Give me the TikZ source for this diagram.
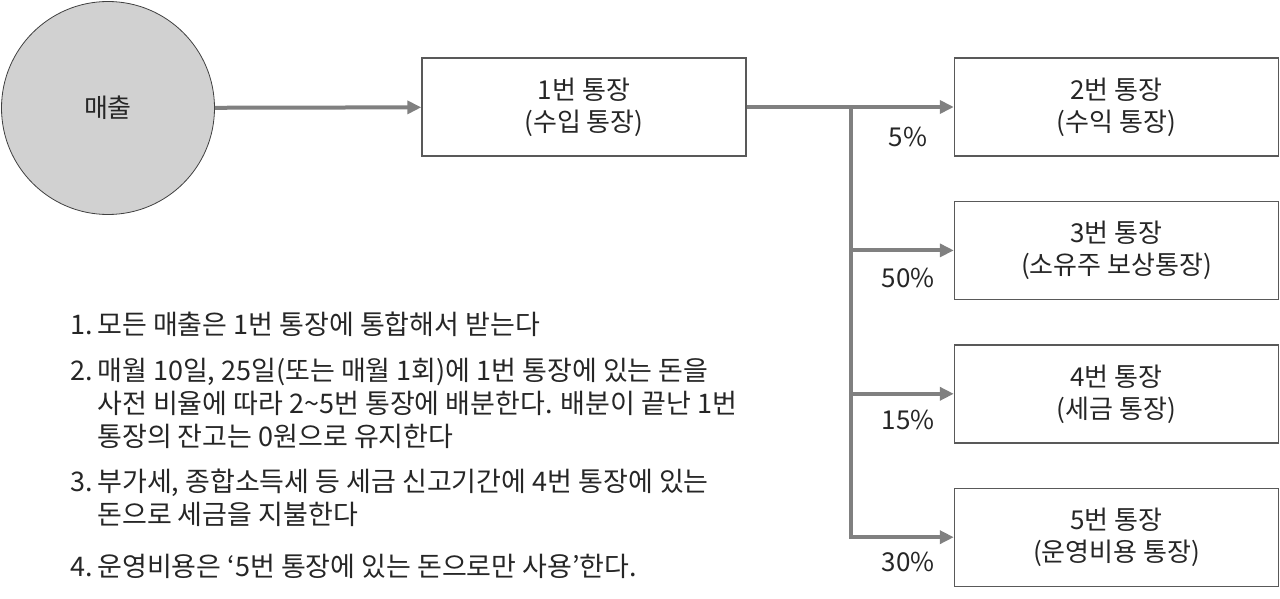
\documentclass[tikz,border=0pt]{standalone}
\usepackage{fontspec}
\setmainfont{Noto Sans CJK KR}
\usetikzlibrary{arrows.meta, positioning}

\begin{document}
\begin{tikzpicture}[
    x=0.5pt, y=-0.5pt,
    node distance=22pt,
    every node/.style={font=\fontsize{13}{16}\selectfont, text=black!85},
    sales/.style={circle, draw=black!75, fill=black!18, minimum size=106.5pt, inner sep=0pt},
    box/.style={draw=black!65, line width=0.7pt, align=center, minimum width=162pt, minimum height=49pt, inner sep=0pt},
    arrow/.style={-{Triangle[length=7pt, width=6.5pt]}, line width=2pt, draw=black!50},
    pct/.style={inner sep=0pt},
    item/.style={anchor=base west, inner sep=0pt, font=\fontsize{13.5}{16.5}\selectfont}
  ]
  \useasboundingbox (0,0) rectangle (1280,599);
  \node[sales] (rev) at (108,108) {매출};
  \node[box] (acc1) at (584,107) {1번 통장\\(수입 통장)};
  \node[box] (acc2) at (1116.5,107) {2번 통장\\(수익 통장)};
  \node[box, below=of acc2] (acc3) {3번 통장\\(소유주 보상통장)};
  \node[box, below=of acc3] (acc4) {4번 통장\\(세금 통장)};
  \node[box, below=of acc4] (acc5) {5번 통장\\(운영비용 통장)};
  \coordinate (split) at (851,107);
  \draw[arrow] (rev) -- (acc1);
  \draw[arrow] (acc1) -- (acc2);
  \draw[arrow] (split) |- (acc5.west);
  \draw[arrow] (split |- acc3.west) -- (acc3.west);
  \draw[arrow] (split |- acc4.west) -- (acc4.west);
  \node[pct] (p2) at (908,137) {5\%};
  \node[pct] (p3) at (908,278) {50\%};
  \node[pct] (p4) at (908,420) {15\%};
  \node[pct] (p5) at (908,562) {30\%};
  \node[item] (rule1) at (70,334) {\begin{tabular}[t]{@{}l@{\,}l@{}}1. & 모든 매출은 1번 통장에 통합해서 받는다\end{tabular}};
  \node[item] (rule2) at (70,380) {\begin{tabular}[t]{@{}l@{\,}l@{}}2. & 매월 10일, 25일(또는 매월 1회)에 1번 통장에 있는 돈을\\ & 사전 비율에 따라 2\textasciitilde5번 통장에 배분한다. 배분이 끝난 1번\\ & 통장의 잔고는 0원으로 유지한다\end{tabular}};
  \node[item] (rule3) at (70,491) {\begin{tabular}[t]{@{}l@{\,}l@{}}3. & 부가세, 종합소득세 등 세금 신고기간에 4번 통장에 있는\\ & 돈으로 세금을 지불한다\end{tabular}};
  \node[item] (rule4) at (70,576) {\begin{tabular}[t]{@{}l@{\,}l@{}}4. & 운영비용은 ‘5번 통장에 있는 돈으로만 사용’한다.\end{tabular}};
\end{tikzpicture}
\end{document}
